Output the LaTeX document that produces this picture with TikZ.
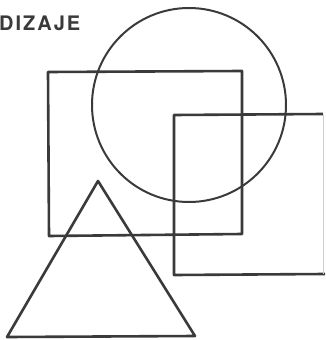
\documentclass[tikz,border=0pt]{standalone}
\usepackage{fontspec}
\setmainfont{TeX Gyre Heros}
\definecolor{ink}{HTML}{3A3A3A}
\begin{document}
\begin{tikzpicture}[x=1pt,y=-1pt,
  shape line/.style={draw=ink,line width=2.6pt,line join=round},
  faint line/.style={draw=ink!25,line width=1pt},
  title text/.style={anchor=base west,inner sep=0pt,text=ink,font=\fontsize{20}{22}\selectfont\bfseries\addfontfeatures{LetterSpace=10}}]
\useasboundingbox (0,0) rectangle (325,340);
% title
\node[title text] (title) at (-1,30.5) {DIZAJE};
% circle
\draw[shape line,line width=2pt] (189,105) circle (97);
% left square
\draw[shape line] (48,72) -- (242,71) -- (242,234) -- (49,236) -- cycle;
% right square (right side barely visible)
\draw[shape line] (323,114) -- (174,115) -- (174,275) -- (325,274);
\draw[faint line] (323,115) -- (323,274);
% triangle
\draw[shape line] (98,181) -- (195,336) -- (7,337) -- cycle;
\end{tikzpicture}
\end{document}
